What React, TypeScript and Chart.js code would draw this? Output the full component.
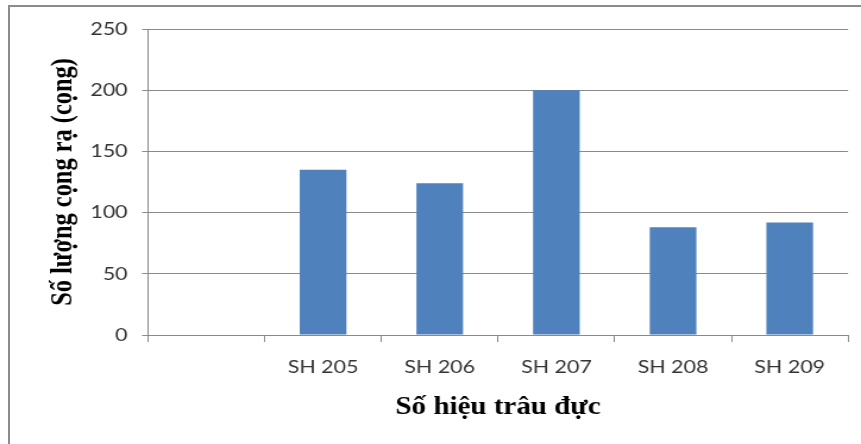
import { useEffect, useRef } from "react";
import { Chart, registerables } from "chart.js";

Chart.register(...registerables);

const categories: string[] = ["", "SH 205", "SH 206", "SH 207", "SH 208", "SH 209"];
const counts: (number | null)[] = [null, 135, 124, 200, 88, 92];
const yTickValues: number[] = [0, 50, 100, 150, 200, 250];
const xTitle = "Số hiệu trâu đực";
const yTitle = "Số lượng cọng rạ (cọng)";

const CANVAS_W = 724;
const CANVAS_H = 444;
const STRETCH = 861 / CANVAS_W;

export default function App() {
  const ref = useRef<HTMLCanvasElement | null>(null);

  useEffect(() => {
    if (!ref.current) return;
    const gridColor = "#8a8a8a";
    const chart = new Chart(ref.current, {
      type: "bar",
      data: {
        labels: categories,
        datasets: [
          {
            data: counts,
            backgroundColor: "#4F81BD",
            borderWidth: 0,
            categoryPercentage: 1,
            barPercentage: 0.4,
          },
        ],
      },
      options: {
        animation: false,
        responsive: false,
        maintainAspectRatio: false,
        layout: { padding: { left: 0, top: 29, right: 10.9, bottom: 0 } },
        plugins: {
          legend: { display: false },
          tooltip: { enabled: false },
        },
        scales: {
          x: {
            offset: true,
            grid: {
              offset: true,
              drawOnChartArea: false,
              drawTicks: true,
              tickLength: 7,
              color: gridColor,
            },
            border: { display: true, color: gridColor },
            ticks: {
              color: "#333333",
              padding: 14,
              font: { family: "Lato", size: 18 },
              maxRotation: 0,
              autoSkip: false,
            },
            title: {
              display: true,
              text: xTitle,
              color: "#000000",
              font: { family: "Liberation Serif", size: 24.4, weight: "bold" },
              padding: { top: 0, bottom: 21.4 },
            },
            afterFit: (scale: any) => {
              scale.height = 109;
            },
          },
          y: {
            min: yTickValues[0],
            max: yTickValues[yTickValues.length - 1],
            grid: {
              color: gridColor,
              drawTicks: true,
              tickLength: 5,
            },
            border: { display: true, color: gridColor },
            ticks: {
              stepSize: yTickValues[1] - yTickValues[0],
              color: "#333333",
              padding: 12.2,
              font: { family: "Lato", size: 18 },
            },
            title: {
              display: true,
              text: yTitle,
              color: "#000000",
              font: { family: "Liberation Serif", size: 24.4, weight: "bold" },
              padding: { top: 39.2, bottom: 0 },
            },
            afterFit: (scale: any) => {
              scale.width = 124.5;
            },
          },
        },
      },
    });
    return () => chart.destroy();
  }, []);

  return (
    <div
      style={{
        position: "absolute",
        left: 0,
        top: 0,
        width: 861,
        height: 444,
        overflow: "hidden",
        background: "#ffffff",
      }}
    >
      <div
        style={{
          position: "absolute",
          left: 0,
          top: 0,
          width: CANVAS_W,
          height: CANVAS_H,
          transform: `scaleX(${STRETCH})`,
          transformOrigin: "0 0",
        }}
      >
        <canvas ref={ref} width={CANVAS_W} height={CANVAS_H} />
      </div>
      <div
        style={{
          position: "absolute",
          left: 8,
          top: 5,
          width: 900,
          height: 500,
          borderLeft: "2px solid #8c8c8c",
          borderTop: "2px solid #8c8c8c",
          pointerEvents: "none",
        }}
      />
    </div>
  );
}
